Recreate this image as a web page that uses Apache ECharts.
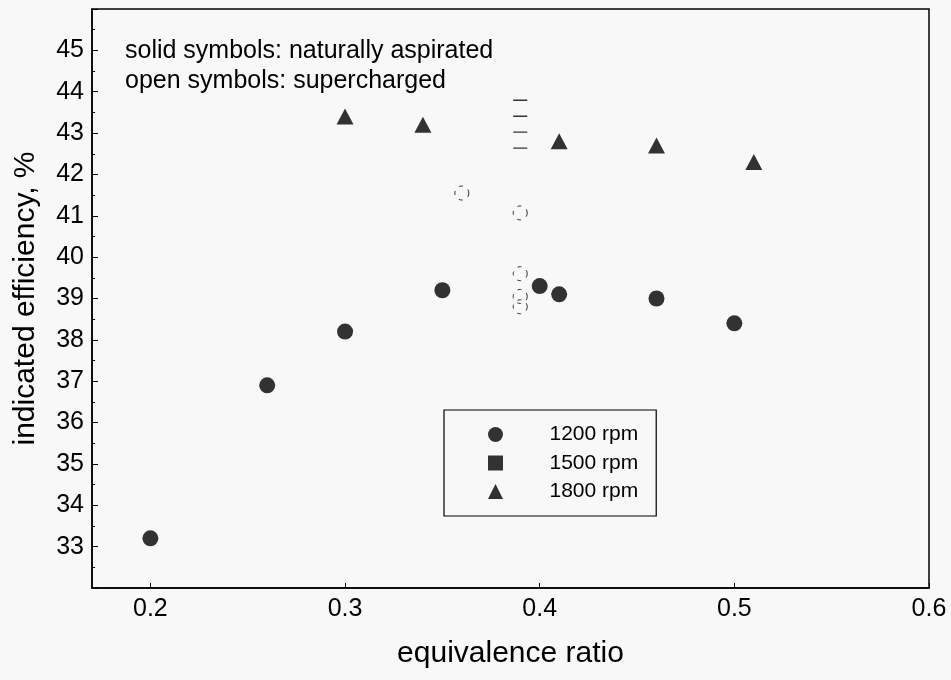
<!DOCTYPE html>
<html><head><meta charset="utf-8">
<script src="https://cdn.jsdelivr.net/npm/echarts@6/dist/echarts.min.js"></script>
<style>html,body{margin:0;padding:0;background:#f8f8f8}#c{width:951px;height:680px}</style>
</head><body><div id="c"></div>
<script>
const FONT = 'Liberation Sans, Arial, Helvetica, sans-serif';

// tick labels
const xTickValues = [0.2, 0.3, 0.4, 0.5, 0.6];
const yTickValues = [33, 34, 35, 36, 37, 38, 39, 40, 41, 42, 43, 44, 45];

// solid symbols: naturally aspirated
const phi1200 = [0.20, 0.26, 0.30, 0.35, 0.40, 0.41, 0.46, 0.50];
const eff1200 = [33.2, 36.9, 38.2, 39.2, 39.3, 39.1, 39.0, 38.4];
const phi1800 = [0.30, 0.34, 0.41, 0.46, 0.51];
const eff1800 = [43.4, 43.2, 42.8, 42.7, 42.3];

// open symbols: supercharged (faint in the scan)
const phi1200sc = [0.36, 0.39, 0.39, 0.39, 0.39];
const eff1200sc = [41.55, 41.07, 39.6, 39.05, 38.8];
const phi1500sc = [0.39, 0.39];
const eff1500sc = [43.6, 42.83];

const legendNames = ['1200 rpm', '1500 rpm', '1800 rpm'];
const noteLines = ['solid symbols: naturally aspirated', 'open symbols: supercharged'];
const xTitle = 'equivalence ratio';
const yTitle = 'indicated efficiency, %';

const zip = (xs, ys) => xs.map((x, i) => [x, ys[i]]);

const chart = echarts.init(document.getElementById('c'), null, {renderer: 'canvas'});
chart.setOption({
  animation: false,
  backgroundColor: '#f8f8f8',
  textStyle: {fontFamily: FONT, color: '#000'},
  grid: {left: 92, right: 22, top: 9, bottom: 92, show: true, borderColor: '#000', borderWidth: 1.5, backgroundColor: 'transparent'},
  xAxis: {
    type: 'value', min: 0.17, max: 0.6,
    name: xTitle, nameLocation: 'middle', nameGap: 51,
    nameTextStyle: {fontSize: 30, color: '#000', fontFamily: FONT},
    axisLine: {show: true, onZero: false, lineStyle: {color: '#000', width: 1.5}},
    axisTick: {show: true, inside: true, length: 5, customValues: xTickValues, lineStyle: {color: '#000'}},
    axisLabel: {customValues: xTickValues, fontSize: 25, color: '#000', margin: 9, fontFamily: FONT,
      formatter: v => Number(v).toFixed(1)},
    splitLine: {show: false}
  },
  yAxis: {
    type: 'value', min: 32, max: 46, interval: 1,
    name: yTitle, nameLocation: 'middle', nameGap: 51, nameRotate: 90,
    nameTextStyle: {fontSize: 30, color: '#000', fontFamily: FONT},
    axisLine: {show: true, onZero: false, lineStyle: {color: '#000', width: 1.5}},
    axisTick: {show: true, inside: true, length: 6, lineStyle: {color: '#000'}},
    minorTick: {show: true, splitNumber: 2, length: 3, lineStyle: {color: '#000'}},
    axisLabel: {customValues: yTickValues, fontSize: 25, color: '#000', margin: 8, fontFamily: FONT},
    splitLine: {show: false}
  },
  legend: {
    orient: 'vertical', left: 444, top: 410,
    data: [
      {name: legendNames[0], icon: 'circle'},
      {name: legendNames[1], icon: 'path://M0,0H10V10H0Z'},
      {name: legendNames[2], icon: 'path://M5,0L10,10H0Z'}
    ],
    itemWidth: 98, itemHeight: 15, itemGap: 7.5,
    padding: [14, 18, 14, 44],
    borderColor: '#000', borderWidth: 1.2,
    selectedMode: false,
    textStyle: {fontSize: 21, lineHeight: 21, color: '#000', fontFamily: FONT}
  },
  graphic: [{
    type: 'text', left: 125, top: 36, silent: true,
    style: {text: noteLines.join('\n'), font: '25px ' + FONT, lineHeight: 30, fill: '#000'}
  }],
  series: [
    {name: legendNames[0], type: 'scatter', symbol: 'circle', symbolSize: 16,
     itemStyle: {color: '#000'}, data: zip(phi1200, eff1200)},
    {name: legendNames[1], type: 'scatter', symbol: 'rect', symbolSize: 14,
     itemStyle: {color: '#000'}, data: []},
    {name: legendNames[2], type: 'scatter', symbol: 'triangle', symbolSize: [17, 16],
     itemStyle: {color: '#000'}, data: zip(phi1800, eff1800)},
    {name: '1200 rpm (supercharged)', type: 'scatter', symbol: 'circle', symbolSize: 14,
     itemStyle: {color: 'rgba(0,0,0,0)', borderColor: '#000', borderWidth: 1, borderType: [4, 6]},
     data: zip(phi1200sc, eff1200sc)},
    {name: '1500 rpm (supercharged)', type: 'scatter', symbol: 'path://M0,0H14M0,16H14', symbolSize: [14, 16],
     itemStyle: {color: 'none', borderColor: '#000', borderWidth: 1.3},
     data: zip(phi1500sc, eff1500sc)}
  ]
});
</script>
</body></html>
